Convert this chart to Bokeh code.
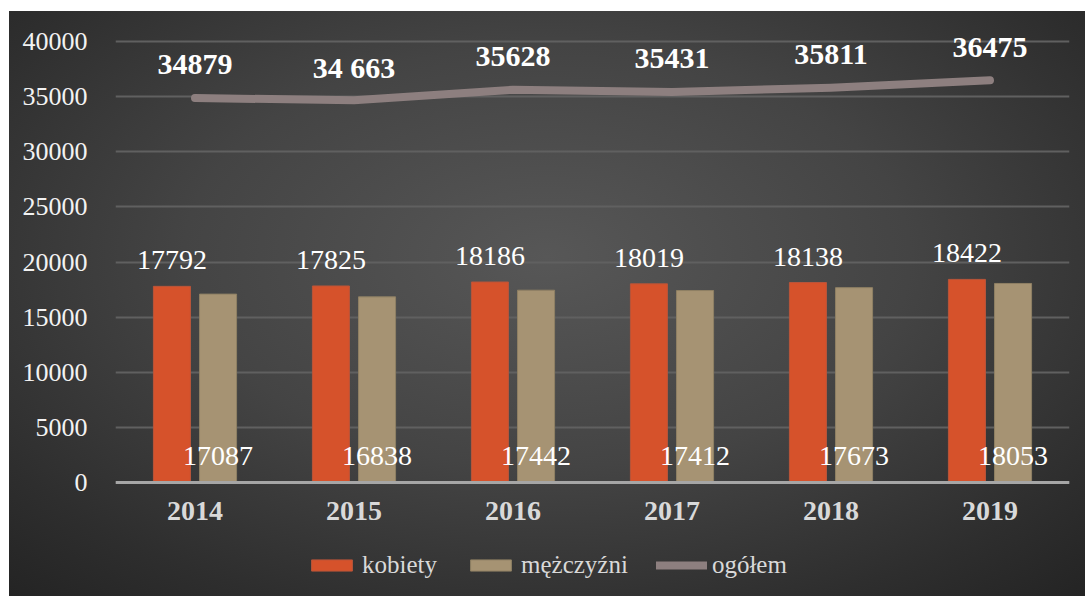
from bokeh.plotting import figure
from bokeh.models import ColumnDataSource, FactorRange, Legend, LegendItem, FixedTicker
from bokeh.transform import dodge
from bokeh.core.properties import value
from bokeh.embed import file_html
from bokeh.resources import INLINE

# Liczba osób w latach 2014-2019
years = ["2014", "2015", "2016", "2017", "2018", "2019"]
kobiety = [17792, 17825, 18186, 18019, 18138, 18422]
mezczyzni = [17087, 16838, 17442, 17412, 17673, 18053]
ogolem = [34879, 34663, 35628, 35431, 35811, 36475]
ogolem_labels = ["34879", "34 663", "35628", "35431", "35811", "36475"]
y_ticks = [0, 5000, 10000, 15000, 20000, 25000, 30000, 35000, 40000]

SERIF = "'Liberation Serif', serif"

src = ColumnDataSource(dict(
    year=years,
    k=kobiety,
    m=mezczyzni,
    t=ogolem,
    k_txt=[str(v) for v in kobiety],
    m_txt=[str(v) for v in mezczyzni],
    t_txt=ogolem_labels,
    zero=[0] * len(years),
))

# the frame runs to the bottom edge so the legend can sit inside it;
# the category axis is pinned to y = 0
p = figure(
    x_range=FactorRange(*years, range_padding=0),
    y_range=(-10340, 42540),
    width=1076, height=585,
    output_backend="svg", toolbar_location=None,
    min_border_left=106, min_border_right=16,
    min_border_top=2, min_border_bottom=0,
)
p.margin = (11, 0, 0, 9)
p.styles = {"background": "radial-gradient(ellipse 75% 80% at 50% 42%, #575757 0%, #444444 45%, #2e2e2e 80%, #232323 100%)"}
p.background_fill_alpha = 0
p.border_fill_alpha = 0
p.outline_line_color = None

bar_w = 0.233
off = 0.145

r_k = p.vbar(x=dodge("year", -off, range=p.x_range), top="k", width=bar_w,
             source=src, fill_color="#d6522b", line_color="#b9553a", line_width=1)
r_m = p.vbar(x=dodge("year", off, range=p.x_range), top="m", width=bar_w,
             source=src, fill_color="#a69373", line_color="#8f8064", line_width=1)
r_t = p.line(x="year", y="t", source=src, line_color="#8d7f7f", line_width=8,
             line_cap="round", line_join="round")

# value labels
p.text(x=dodge("year", -off, range=p.x_range), y="k", text="k_txt", source=src,
       text_font=value(SERIF), text_font_size="28px", text_color="#ffffff",
       text_align="center", text_baseline="middle", y_offset=-26)
p.text(x=dodge("year", off, range=p.x_range), y="zero", text="m_txt", source=src,
       text_font=value(SERIF), text_font_size="28px", text_color="#ffffff",
       text_align="center", text_baseline="middle", y_offset=-27)
p.text(x="year", y="t", text="t_txt", source=src,
       text_font=value(SERIF), text_font_size="30px", text_font_style="bold",
       text_color="#ffffff", text_align="center", text_baseline="middle", y_offset=-33)

# axes
p.yaxis.ticker = FixedTicker(ticks=y_ticks)
p.yaxis.axis_line_color = None
p.yaxis.major_tick_line_color = None
p.yaxis.minor_tick_line_color = None
p.yaxis.major_label_text_font = SERIF
p.yaxis.major_label_text_font_size = "26px"
p.yaxis.major_label_text_color = "#f2f2f2"
p.yaxis.major_label_standoff = 22

p.xaxis.fixed_location = 0
p.xaxis.axis_line_color = "#a6a6a6"
p.xaxis.axis_line_width = 3
p.xaxis.major_tick_line_color = None
p.xaxis.minor_tick_line_color = None
p.xaxis.major_label_text_font = SERIF
p.xaxis.major_label_text_font_size = "28px"
p.xaxis.major_label_text_font_style = "bold"
p.xaxis.major_label_text_color = "#d9d9d9"
p.xaxis.major_label_standoff = 13

p.xgrid.grid_line_color = None
p.ygrid.grid_line_color = "#606060"
p.ygrid.grid_line_width = 2

legend = Legend(
    items=[LegendItem(label="kobiety", renderers=[r_k]),
           LegendItem(label="mężczyźni", renderers=[r_m]),
           LegendItem(label="ogółem", renderers=[r_t])],
    orientation="horizontal",
    location=(191, 17),
    glyph_width=51, glyph_height=14,
    label_standoff=5, spacing=28, padding=0, margin=0,
    label_text_font=SERIF, label_text_font_size="25px",
    label_text_color="#d9d9d9",
    background_fill_alpha=0, border_line_color=None,
)
p.add_layout(legend)

open("out.html", "w").write(file_html(p, INLINE))
